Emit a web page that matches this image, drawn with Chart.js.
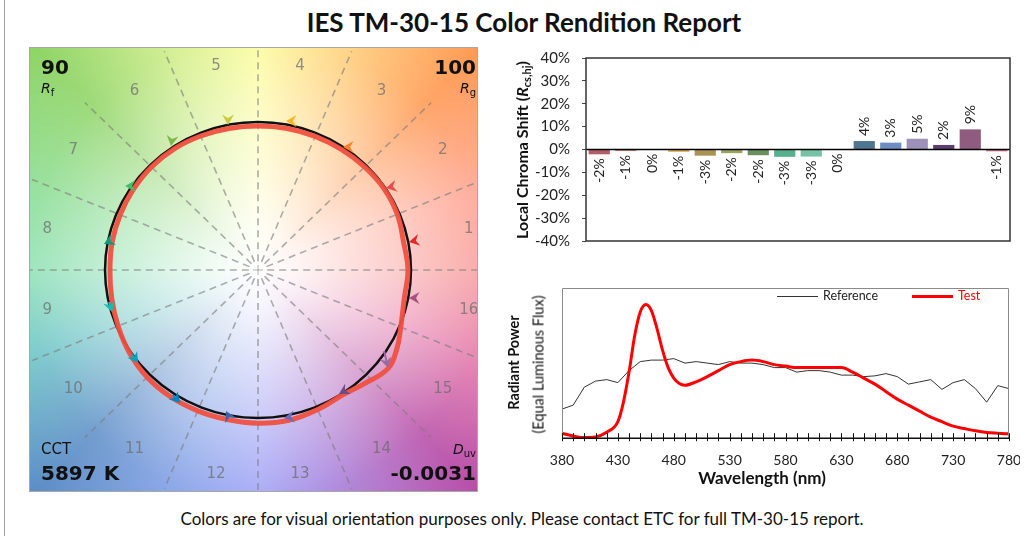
<!DOCTYPE html>
<html><head><meta charset="utf-8">
<script src="https://cdn.jsdelivr.net/npm/chart.js@4/dist/chart.umd.min.js"></script>
<style>
html,body{margin:0;padding:0;background:#fff;}
body{width:1030px;height:536px;position:relative;overflow:hidden;font-family:Lato,'Open Sans',sans-serif;color:#111;}
.abs{position:absolute;white-space:nowrap;}
canvas{position:absolute;}
#pageLine{left:4px;top:0;width:0;height:536px;border-left:1px solid #a0a0a0;}
#title{left:9px;width:1030px;top:6px;text-align:center;font-weight:bold;font-size:26px;line-height:32px;}
#footer{left:7px;width:1030px;top:508px;text-align:center;font-size:17px;line-height:22px;}
.dv{font-family:'DejaVu Sans',Verdana,sans-serif;line-height:1;}
.big{font-weight:bold;font-size:20px;}
.sm{font-size:14px;}
.sm sub{font-size:10px;vertical-align:-3px;line-height:0;font-style:normal;}
.rot{transform:rotate(-90deg);transform-origin:50% 50%;text-align:center;}
.rot sub{font-size:11px;vertical-align:-3px;line-height:0;}
</style></head>
<body>
<div id="pageLine" class="abs"></div>
<div id="title" class="abs">IES TM-30-15 Color Rendition Report</div>

<canvas id="vec" width="449" height="445" style="left:29px;top:47px;"></canvas>
<div id="rfVal" class="abs dv big" style="left:41px;top:57px;"></div>
<div class="abs dv sm" style="left:41px;top:81px;"><i>R</i><sub>f</sub></div>
<div id="rgVal" class="abs dv big" style="right:554px;top:57px;"></div>
<div class="abs dv sm" style="right:554px;top:81px;"><i>R</i><sub>g</sub></div>
<div class="abs dv" style="left:41px;top:442px;font-size:15px;">CCT</div>
<div id="cctVal" class="abs dv big" style="left:41px;top:463px;"></div>
<div class="abs dv sm" style="right:554px;top:442px;"><i>D</i><sub>uv</sub></div>
<div id="duvVal" class="abs dv big" style="right:554px;top:463px;"></div>

<canvas id="bars" width="500" height="202" style="left:520px;top:48px;"></canvas>
<div class="abs rot" style="left:412px;top:141px;width:220px;font-weight:bold;font-size:16px;line-height:18px;">Local Chroma Shift (<i>R</i><sub>cs,hj</sub>)</div>

<canvas id="spd" width="490" height="212" style="left:530px;top:280px;"></canvas>
<div class="abs rot" style="left:413px;top:354px;width:200px;font-weight:bold;font-size:14.5px;line-height:17px;">Radiant Power</div>
<div class="abs rot" style="left:438px;top:356px;width:200px;font-size:14.5px;line-height:17px;">(Equal Luminous Flux)</div>
<div class="abs" style="left:662px;top:467px;width:200px;text-align:center;font-weight:bold;font-size:17px;line-height:21px;">Wavelength (nm)</div>
<div class="abs" style="left:777px;top:296px;width:41px;height:0;border-top:1px solid #333;"></div>
<div class="abs" style="left:823px;top:288px;font-size:12.5px;line-height:16px;color:#222;">Reference</div>
<div class="abs" style="left:912px;top:295px;width:41px;height:3px;background:#ff0000;"></div>
<div class="abs" style="left:958px;top:288px;font-size:12.5px;line-height:16px;color:#ff0000;">Test</div>

<div id="footer" class="abs">Colors are for visual orientation purposes only. Please contact ETC for full TM-30-15 report.</div>

<script>
// ---------------- DATA ----------------
const rfValue = 90;
const rgValue = 100;
const cctValue = 5897;
const duvValue = -0.0031;

const binLabels = ['1','2','3','4','5','6','7','8','9','10','11','12','13','14','15','16'];
const chromaShift = [-2.1, -0.7, -0.1, -1.0, -2.7, -1.6, -2.5, -3.2, -3.1, 0, 3.7, 3.0, 4.7, 2.0, 8.8, -0.8];
const barColors = ['#b35d68','#c98a7c','#d0a070','#d9a45a','#a99253','#9ba25e','#6b8f5f','#55b08f',
                   '#76c2a6','#5aa0b0','#4f7690','#6e8ec2','#9d90b9','#5d3f6f','#8f5c7f','#c7708c'];
const arrowColors = ['#e62828','#e74b4b','#fb812e','#ffb529','#cbca46','#7eb94c','#41c06d','#009c7c',
                     '#16bcb0','#00a4bf','#0085c3','#3b62aa','#6b6bbd','#6a4e85','#9d69a1','#a74f81'];

// reference (arrow tail) and test (arrow tip) points, normalised a'/b' coordinates
const refX  = [1.020, 0.869, 0.588, 0.229, -0.196, -0.562, -0.824, -0.967, -0.974, -0.824, -0.556, -0.183, 0.216, 0.575, 0.824, 1.026];
const refY  = [0.196, 0.561, 0.831, 1.007, 1.027, 0.885, 0.568, 0.196, -0.216, -0.568, -0.845, -1.007, -0.993, -0.811, -0.547, -0.189];
const testX = [0.987, 0.837, 0.556, 0.183, -0.196, -0.569, -0.869, -1.007, -0.954, -0.784, -0.510, -0.209, 0.170, 0.529, 0.850, 0.987];
const testY = [0.189, 0.554, 0.831, 1.007, 0.980, 0.838, 0.568, 0.176, -0.284, -0.628, -0.899, -0.953, -1.000, -0.838, -0.662, -0.189];

// test gamut outline (hue angle in degrees, relative radius)
const gamutAngle  = [0, 11.25, 22.5, 33.75, 45, 56.25, 67.5, 78.75, 90, 101.25, 112.5, 123.75, 135, 146.25, 157.5, 168.75,
                     180, 191.25, 202.5, 213.75, 225, 236.25, 247.5, 258.75, 270, 281.25, 292.5, 303.75, 312, 322, 330, 337.5, 348.75];
const gamutRadius = [0.98, 0.97, 0.985, 0.99, 0.985, 0.98, 0.977, 0.975, 0.973, 0.975, 0.98, 0.985, 0.985, 0.98, 0.975, 0.972,
                     0.968, 0.975, 0.99, 1.01, 1.025, 1.03, 1.03, 1.03, 1.035, 1.035, 1.02, 1.01, 1.035, 1.08, 1.05, 1.01, 0.975];

// spectral power distributions
const refWavelength = [380,390,400,410,420,430,440,450,460,470,480,490,500,510,520,530,540,550,560,570,580,
                       590,600,610,620,630,640,650,660,670,680,690,700,710,720,730,740,750,760,770,780];
const refPower = [0.194,0.22,0.34,0.38,0.39,0.37,0.45,0.51,0.52,0.52,0.53,0.50,0.51,0.50,0.49,0.51,0.50,0.50,0.49,0.47,0.47,
                  0.44,0.45,0.45,0.44,0.42,0.42,0.41,0.415,0.43,0.41,0.36,0.375,0.39,0.325,0.37,0.39,0.33,0.24,0.35,0.33];
const testWavelength = [380,390,400,410,420,430,435,440,445,450,455,460,465,470,475,480,485,490,500,510,520,530,540,550,560,
                        570,580,590,600,610,620,630,640,650,660,670,680,690,700,710,720,730,740,750,760,770,780];
const testPower = [0.033,0.015,0.004,0.009,0.04,0.11,0.24,0.44,0.68,0.84,0.89,0.85,0.73,0.585,0.47,0.40,0.364,0.353,0.375,0.41,
                   0.45,0.49,0.51,0.52,0.51,0.49,0.48,0.47,0.47,0.47,0.47,0.47,0.44,0.40,0.36,0.31,0.26,0.22,0.18,0.14,
                   0.11,0.08,0.064,0.049,0.038,0.033,0.029];

// ---------------- TEXT ----------------
document.getElementById('rfVal').textContent = rfValue;
document.getElementById('rgVal').textContent = rgValue;
document.getElementById('cctVal').textContent = cctValue + ' K';
document.getElementById('duvVal').textContent = duvValue.toFixed(4);

Chart.defaults.font.family = "Lato, 'Open Sans', sans-serif";
Chart.defaults.color = '#222';
const DEG = Math.PI / 180;

// ---------------- COLOUR VECTOR GRAPHIC ----------------
const hueStops = [ // clockwise canvas angle (deg), colour
  [0,'#f89a98'],[20,'#e679a8'],[45,'#b74aa6'],[70,'#a278d8'],[90,'#989cf6'],[110,'#7c9be6'],
  [135,'#5a8cc6'],[160,'#6cc4c6'],[180,'#8ce0b2'],[200,'#88dc90'],[225,'#8ed464'],[250,'#d2ee86'],
  [270,'#fcfc98'],[290,'#ffd27a'],[315,'#ff9850'],[340,'#ffa08c'],[360,'#f89a98']];
const whiteStops = [[0,'rgba(255,255,255,1)'],[0.12,'rgba(255,255,255,0.9)'],[0.45,'rgba(255,255,255,0.5)'],
                    [0.72,'rgba(255,255,255,0.15)'],[1,'rgba(255,255,255,0)']];

const loopPlugin = {
  id: 'loopLine',
  afterDatasetUpdate(chart, args) {
    const ds = chart.data.datasets[args.index];
    if (ds.closed && args.meta.dataset) {
      const line = args.meta.dataset;
      line._loop = true; line._fullLoop = true; line._pointsUpdated = false;
      delete line._segments; delete line._path;
    }
  }
};

const vectorPlugin = {
  id: 'vectorDeco',
  beforeDatasetsDraw(chart) {
    const {ctx, chartArea: a, scales: {x, y}} = chart;
    const cx = x.getPixelForValue(0), cy = y.getPixelForValue(0);
    const rx = x.getPixelForValue(1) - cx, ry = cy - y.getPixelForValue(1);
    ctx.save();
    ctx.beginPath(); ctx.rect(a.left, a.top, a.width, a.height); ctx.clip();
    if (ctx.createConicGradient) {
      const g = ctx.createConicGradient(0, cx, cy);
      hueStops.forEach(s => g.addColorStop(s[0] / 360, s[1]));
      ctx.fillStyle = g;
    } else ctx.fillStyle = '#eee';
    ctx.fillRect(a.left, a.top, a.width, a.height);
    const w = ctx.createRadialGradient(cx, cy, 0, cx, cy, rx * 2.1);
    whiteStops.forEach(s => w.addColorStop(s[0], s[1]));
    ctx.fillStyle = w;
    ctx.fillRect(a.left, a.top, a.width, a.height);
    // spokes
    ctx.strokeStyle = 'rgba(125,125,125,0.62)'; ctx.lineWidth = 1.6; ctx.setLineDash([7, 5]);
    for (let k = 0; k < 16; k++) {
      const t = k * 22.5 * DEG;
      ctx.beginPath();
      ctx.moveTo(x.getPixelForValue(0.06 * Math.cos(t)), y.getPixelForValue(0.06 * Math.sin(t)));
      ctx.lineTo(x.getPixelForValue(1.6 * Math.cos(t)), y.getPixelForValue(1.6 * Math.sin(t)));
      ctx.stroke();
    }
    ctx.setLineDash([]);
    ctx.strokeStyle = 'rgba(125,125,125,0.6)'; ctx.lineWidth = 1;
    ctx.beginPath(); ctx.moveTo(cx - 5, cy); ctx.lineTo(cx + 5, cy); ctx.moveTo(cx, cy - 5); ctx.lineTo(cx, cy + 5); ctx.stroke();
    // bin numbers
    ctx.fillStyle = 'rgba(105,105,105,0.72)';
    ctx.font = "15px 'DejaVu Sans', sans-serif";
    ctx.textAlign = 'center'; ctx.textBaseline = 'middle';
    binLabels.forEach((lab, i) => {
      const t = (11.25 + 22.5 * i) * DEG;
      const r = 1.37 + 0.09 * Math.abs(Math.sin(2 * t));
      ctx.fillText(lab, x.getPixelForValue(r * Math.cos(t)), y.getPixelForValue(r * Math.sin(t)));
    });
    // reference circle
    ctx.beginPath(); ctx.ellipse(cx, cy, rx, ry, 0, 0, 2 * Math.PI);
    ctx.strokeStyle = '#111'; ctx.lineWidth = 2.5; ctx.stroke();
    ctx.restore();
  },
  afterDatasetsDraw(chart) {
    const {ctx, chartArea: a, scales: {x, y}} = chart;
    ctx.save();
    for (let i = 0; i < testX.length; i++) {
      const x0 = x.getPixelForValue(refX[i]), y0 = y.getPixelForValue(refY[i]);
      const x1 = x.getPixelForValue(testX[i]), y1 = y.getPixelForValue(testY[i]);
      const ang = Math.atan2(y1 - y0, x1 - x0);
      const len = Math.hypot(x1 - x0, y1 - y0);
      ctx.strokeStyle = arrowColors[i]; ctx.fillStyle = arrowColors[i];
      if (len > 9) {
        ctx.lineWidth = 2;
        ctx.beginPath(); ctx.moveTo(x0, y0);
        ctx.lineTo(x1 - 6 * Math.cos(ang), y1 - 6 * Math.sin(ang)); ctx.stroke();
      }
      ctx.save();
      ctx.translate(x1, y1); ctx.rotate(ang);
      ctx.beginPath();
      ctx.moveTo(0, 0); ctx.lineTo(-10.5, -6); ctx.lineTo(-7, 0); ctx.lineTo(-10.5, 6); ctx.closePath();
      ctx.fill();
      ctx.restore();
    }
    ctx.strokeStyle = '#a8a8a8'; ctx.lineWidth = 1;
    ctx.strokeRect(a.left + 0.5, a.top + 0.5, a.width - 1, a.height - 1);
    ctx.restore();
  }
};

new Chart(document.getElementById('vec'), {
  type: 'line',
  data: { datasets: [{
    data: gamutAngle.map((g, i) => ({x: gamutRadius[i] * Math.cos(g * DEG), y: gamutRadius[i] * Math.sin(g * DEG)})),
    closed: true, borderColor: 'rgba(240,80,64,0.95)', borderWidth: 5, pointRadius: 0, tension: 0.4, fill: false
  }]},
  options: {
    responsive: false, animation: false, layout: {padding: 0},
    plugins: {legend: {display: false}, tooltip: {enabled: false}},
    scales: {
      x: {type: 'linear', display: false, min: -1.497, max: 1.438},
      y: {type: 'linear', display: false, min: -1.5, max: 1.507}
    }
  },
  plugins: [loopPlugin, vectorPlugin]
});

// ---------------- LOCAL CHROMA SHIFT BARS ----------------
const barDeco = {
  id: 'barDeco',
  afterDatasetsDraw(chart) {
    const {ctx, chartArea: a, scales: {y}} = chart;
    const meta = chart.getDatasetMeta(0);
    ctx.save();
    const y0 = y.getPixelForValue(0);
    ctx.strokeStyle = '#000'; ctx.lineWidth = 1.5;
    ctx.beginPath(); ctx.moveTo(a.left, y0); ctx.lineTo(a.right, y0); ctx.stroke();
    ctx.fillStyle = '#222'; ctx.font = "14px Lato, 'Open Sans', sans-serif"; ctx.textBaseline = 'middle';
    meta.data.forEach((bar, i) => {
      const v = chromaShift[i];
      const txt = `${Math.round(v)}%`;
      ctx.save();
      if (v > 0) { ctx.translate(bar.x, bar.y - 5); ctx.rotate(-Math.PI / 2); ctx.textAlign = 'left'; }
      else { ctx.translate(bar.x, Math.max(bar.y, y0) + 4); ctx.rotate(-Math.PI / 2); ctx.textAlign = 'right'; }
      ctx.fillText(txt, 0, 0);
      ctx.restore();
    });
    ctx.strokeStyle = '#333'; ctx.lineWidth = 1.5;
    ctx.strokeRect(a.left, a.top, a.width, a.height);
    ctx.restore();
  }
};

new Chart(document.getElementById('bars'), {
  type: 'bar',
  data: { labels: binLabels, datasets: [{ data: chromaShift, backgroundColor: barColors, barPercentage: 0.8, categoryPercentage: 1.0 }]},
  options: {
    responsive: false, animation: false,
    layout: {padding: {top: 10, right: 10, bottom: 9, left: 0}},
    plugins: {legend: {display: false}, tooltip: {enabled: false}},
    scales: {
      x: {display: false},
      y: {min: -40, max: 40,
          ticks: {stepSize: 10, callback: v => v + '%', padding: 12, font: {size: 15}, color: '#222'},
          grid: {drawOnChartArea: false, drawTicks: true, tickLength: 4, color: '#444'},
          border: {display: false},
          afterFit(s) { s.width = 66; s.paddingTop = 0; s.paddingBottom = 0; }}
    }
  },
  plugins: [barDeco]
});

// ---------------- SPECTRAL POWER DISTRIBUTION ----------------
const spdDeco = {
  id: 'spdDeco',
  afterDraw(chart) {
    const {ctx, chartArea: a, scales: {x}} = chart;
    ctx.save();
    ctx.strokeStyle = '#8a8a8a'; ctx.lineWidth = 1;
    ctx.beginPath();
    ctx.moveTo(a.left + 0.5, a.bottom); ctx.lineTo(a.left + 0.5, a.top + 0.5);
    ctx.lineTo(a.right - 0.5, a.top + 0.5); ctx.lineTo(a.right - 0.5, a.bottom);
    ctx.stroke();
    ctx.strokeStyle = '#111'; ctx.lineWidth = 1.5;
    ctx.beginPath(); ctx.moveTo(a.left, a.bottom); ctx.lineTo(a.right, a.bottom); ctx.stroke();
    ctx.lineWidth = 1;
    x.ticks.forEach(t => {
      const px = Math.round(x.getPixelForValue(t.value)) + 0.5;
      ctx.beginPath(); ctx.moveTo(px, a.bottom - 5); ctx.lineTo(px, a.bottom + 3); ctx.stroke();
    });
    ctx.restore();
  }
};

new Chart(document.getElementById('spd'), {
  type: 'line',
  data: { datasets: [
    { label: 'Test', data: testWavelength.map((w, i) => ({x: w, y: testPower[i]})),
      borderColor: '#ff0000', borderWidth: 3, pointRadius: 0, cubicInterpolationMode: 'monotone', clip: 4 },
    { label: 'Reference', data: refWavelength.map((w, i) => ({x: w, y: refPower[i]})),
      borderColor: '#333', borderWidth: 1, pointRadius: 0, tension: 0 }
  ]},
  options: {
    responsive: false, animation: false,
    layout: {padding: {left: 32, right: 11, top: 8, bottom: 9}},
    plugins: {legend: {display: false}, tooltip: {enabled: false}},
    scales: {
      x: {type: 'linear', min: 380, max: 780,
          ticks: {stepSize: 10, autoSkip: false, maxRotation: 0, padding: 14, font: {size: 14}, color: '#222',
                  callback: v => ((v - 380) % 50 === 0 ? String(v) : '')},
          grid: {display: false, drawTicks: false}, border: {display: false},
          afterFit(s) { s.paddingLeft = 0; s.paddingRight = 0; }},
      y: {display: false, min: 0, max: 1}
    }
  },
  plugins: [spdDeco]
});
</script>
</body></html>
